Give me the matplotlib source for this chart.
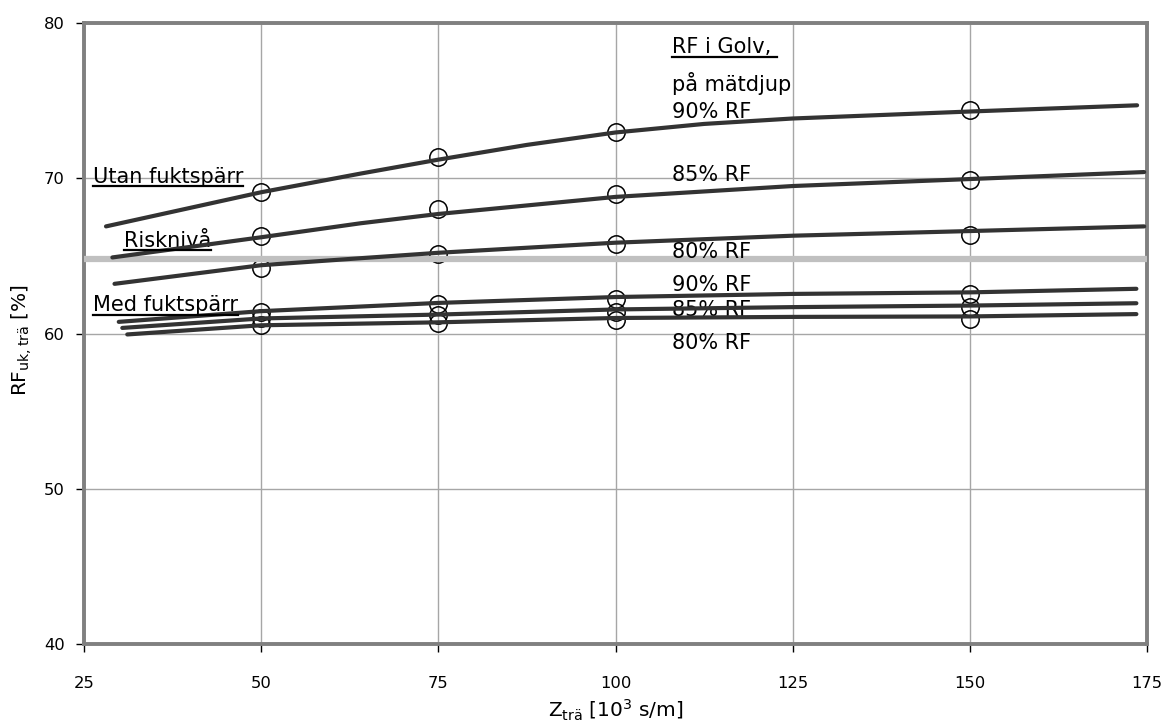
import matplotlib
matplotlib.use('Agg')
import matplotlib.pyplot as plt
from matplotlib.lines import Line2D
from matplotlib.transforms import IdentityTransform

# measured values (circles)
z_meas = [50, 75, 100, 150]
utan_90_meas = [69.1, 71.4, 73.0, 74.4]
utan_85_meas = [66.3, 68.0, 69.0, 69.9]
utan_80_meas = [64.2, 65.15, 65.75, 66.35]
med_90_meas = [61.4, 61.9, 62.2, 62.55]
med_85_meas = [61.0, 61.2, 61.4, 61.7]
med_80_meas = [60.55, 60.7, 60.9, 60.95]

# calculated curves
utan_90_x = [28.1, 50, 64, 75, 87.5, 100, 112.5, 125, 150, 173.6]
utan_90_y = [66.9, 69.1, 70.3, 71.2, 72.15, 72.95, 73.5, 73.85, 74.3, 74.7]
utan_85_x = [29, 50, 64, 75, 100, 125, 150, 174.6]
utan_85_y = [64.9, 66.2, 67.1, 67.7, 68.8, 69.5, 69.95, 70.4]
utan_80_x = [29.3, 50, 64, 75, 100, 125, 150, 174.6]
utan_80_y = [63.2, 64.4, 64.85, 65.2, 65.85, 66.3, 66.6, 66.9]
med_90_x = [29.9, 50, 75, 100, 125, 150, 173.5]
med_90_y = [60.75, 61.44, 61.97, 62.35, 62.55, 62.65, 62.88]
med_85_x = [30.4, 50, 75, 100, 125, 150, 173.5]
med_85_y = [60.36, 60.97, 61.22, 61.55, 61.7, 61.8, 61.95]
med_80_x = [31.1, 50, 75, 100, 125, 150, 173.5]
med_80_y = [59.94, 60.53, 60.72, 61.0, 61.07, 61.1, 61.25]

risk_x = [25, 175]
risk_level = 64.8

x_ticks = [25, 50, 75, 100, 125, 150, 175]
y_ticks = [40, 50, 60, 70, 80]

plt.rcParams['font.family'] = 'DejaVu Sans'

fig = plt.figure(figsize=(11.64, 7.24), dpi=100)
ax = fig.add_axes([0.0722, 0.1105, 0.9132, 0.8577])

curves = [(utan_90_x, utan_90_y), (utan_85_x, utan_85_y), (utan_80_x, utan_80_y),
          (med_90_x, med_90_y), (med_85_x, med_85_y), (med_80_x, med_80_y)]
meas = [utan_90_meas, utan_85_meas, utan_80_meas, med_90_meas, med_85_meas, med_80_meas]

for m in meas:
    ax.plot(z_meas, m, linestyle='none', marker='o', markersize=12.5,
            markerfacecolor='none', markeredgecolor='black', markeredgewidth=1.1, zorder=2)

ax.plot(risk_x, [risk_level, risk_level], color='#c0c0c0', linewidth=4.5,
        solid_capstyle='butt', zorder=3)

for cx, cy in curves:
    ax.plot(cx, cy, color='#333333', linewidth=3, solid_capstyle='round',
            solid_joinstyle='round', zorder=4)

ax.set_xlim(25, 175)
ax.set_ylim(40, 80)
ax.set_xticks(x_ticks)
ax.set_yticks(y_ticks)
ax.grid(True, color='#a6a6a6', linewidth=1)
ax.set_axisbelow(True)
for s in ax.spines.values():
    s.set_color('#808080')
    s.set_linewidth(2.8)
ax.tick_params(direction='out', length=6, width=1, color='black',
               labelsize=11.8, colors='black')
ax.tick_params(axis='x', pad=17)
ax.tick_params(axis='y', pad=8)

ax.set_xlabel(r'Z$_{\mathregular{trä}}$ [10$^{\mathregular{3}}$ s/m]', fontsize=14.5)
ax.xaxis.set_label_coords(0.5, -0.087)
ax.set_ylabel(r'RF$_{\mathregular{uk,trä}}$ [%]', fontsize=14.5)
ax.yaxis.set_label_coords(-0.047, 0.49)

fs = 15
labels = []
labels.append(ax.text(26.2, 69.7, 'Utan fuktspärr', fontsize=fs, va='baseline'))
labels.append(ax.text(30.6, 65.6, 'Risknivå', fontsize=fs, va='baseline'))
labels.append(ax.text(26.2, 61.45, 'Med fuktspärr', fontsize=fs, va='baseline'))
labels.append(ax.text(107.9, 78.05, 'RF i Golv, ', fontsize=fs, va='baseline'))
ax.text(107.9, 75.6, 'på mätdjup', fontsize=fs, va='baseline')
ax.text(107.9, 73.85, '90% RF', fontsize=fs, va='baseline')
ax.text(107.9, 69.85, '85% RF', fontsize=fs, va='baseline')
ax.text(107.9, 64.85, '80% RF', fontsize=fs, va='baseline')
ax.text(107.9, 62.75, '90% RF', fontsize=fs, va='baseline')
ax.text(107.9, 61.1, '85% RF', fontsize=fs, va='baseline')
ax.text(107.9, 59.0, '80% RF', fontsize=fs, va='baseline')

# underline selected labels
fig.canvas.draw()
renderer = fig.canvas.get_renderer()
for t in labels:
    bb = t.get_window_extent(renderer)
    bx, by = ax.transData.transform(t.get_position())
    y = by - 3.5
    fig.add_artist(Line2D([bb.x0, bb.x1], [y, y], color='black', linewidth=1.6,
                          transform=IdentityTransform()))

fig.savefig('out.png', dpi=100)
